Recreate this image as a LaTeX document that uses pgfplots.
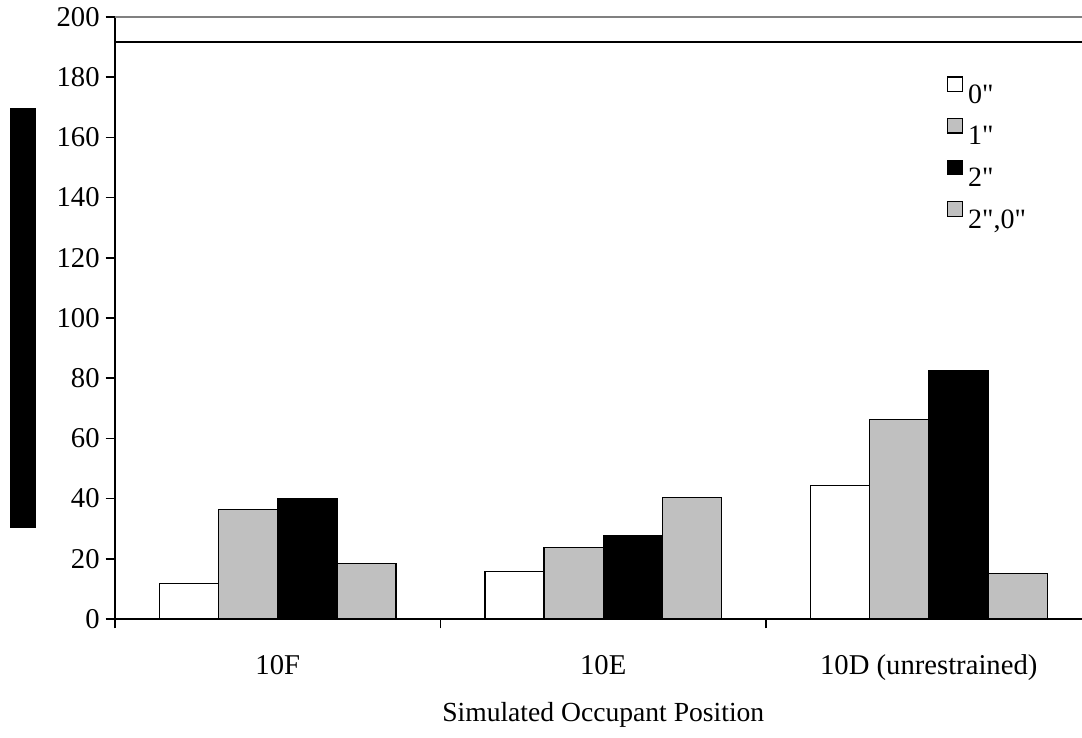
\documentclass[border=0pt]{standalone}
\usepackage{pgfplots}
\pgfplotsset{compat=1.18}
\usepackage{fontspec}
\setmainfont{Liberation Serif}[Ligatures=TeXOff]
\definecolor{barg}{RGB}{192,192,192}
\begin{document}
\begin{tikzpicture}
\useasboundingbox (-86.25pt,-89.25pt) rectangle (725.25pt,464.25pt);
\begin{axis}[
  scale only axis, width=732.375pt, height=451.5pt,
  xmin=-0.5, xmax=2.5, ymin=0, ymax=200,
  axis x line*=bottom, axis y line*=left,
  axis line style={-, line width=1.1pt},
  ytick={0,20,...,200},
  xtick={-0.5,0.5,1.5,2.5}, xticklabels={},
  extra x ticks={0,1,2},
  extra x tick labels={10F,10E,10D (unrestrained)},
  extra x tick style={major tick length=0pt, xticklabel style={anchor=base, yshift=-42pt}},
  tick align=outside, major tick length=7pt,
  tick style={line width=1.1pt, black},
  /pgf/number format/assume math mode=true,
  ticklabel style={font=\fontsize{21.5}{25}\selectfont},
  yticklabel style={xshift=-1pt},
  xlabel={Simulated Occupant Position},
  xlabel style={at={(axis description cs:0.5,0)}, anchor=base, yshift=-77pt, font=\fontsize{20.7}{24}\selectfont},
  ylabel={\rule{315pt}{19.5pt}},
  ylabel style={at={(axis description cs:0,0.5)}, anchor=center, yshift=69pt},
  legend style={draw=none, fill=none, at={(axis description cs:0.852,0.9017)}, anchor=north west,
    font=\fontsize{21}{25}\selectfont, row sep=7.5pt, inner sep=0pt,
    /tikz/every odd column/.style={column sep=2pt}},
  legend cell align=left,
]
\pgfplotsset{sq/.style={legend image code/.code={\draw[##1, line width=0.9pt] (0pt,2.75pt) rectangle (10.8pt,13.55pt);}}}
\addplot[ybar, bar width=0.182, bar shift=-0.273, fill=white, draw=black, line width=1.1pt, sq]
  coordinates {(0,11.8) (1,15.8) (2,44.4)};
\addlegendentry{0"}
\addplot[ybar, bar width=0.182, bar shift=-0.091, fill=barg, draw=black, line width=1.1pt, sq]
  coordinates {(0,36.4) (1,23.8) (2,66.3)};
\addlegendentry{1"}
\addplot[ybar, bar width=0.182, bar shift=0.091, fill=black, draw=black, line width=1.1pt, sq]
  coordinates {(0,39.8) (1,27.8) (2,82.4)};
\addlegendentry{2"}
\addplot[ybar, bar width=0.182, bar shift=0.273, fill=barg, draw=black, line width=1.1pt, sq]
  coordinates {(0,18.5) (1,40.4) (2,15.2)};
\addlegendentry{2",0"}
\draw[black, line width=1.1pt] (axis cs:-0.5,191.7) -- (axis cs:2.5,191.7);
\draw[gray, line width=1.1pt] (rel axis cs:0,1) -- (rel axis cs:1,1);
\end{axis}
\end{tikzpicture}
\end{document}
